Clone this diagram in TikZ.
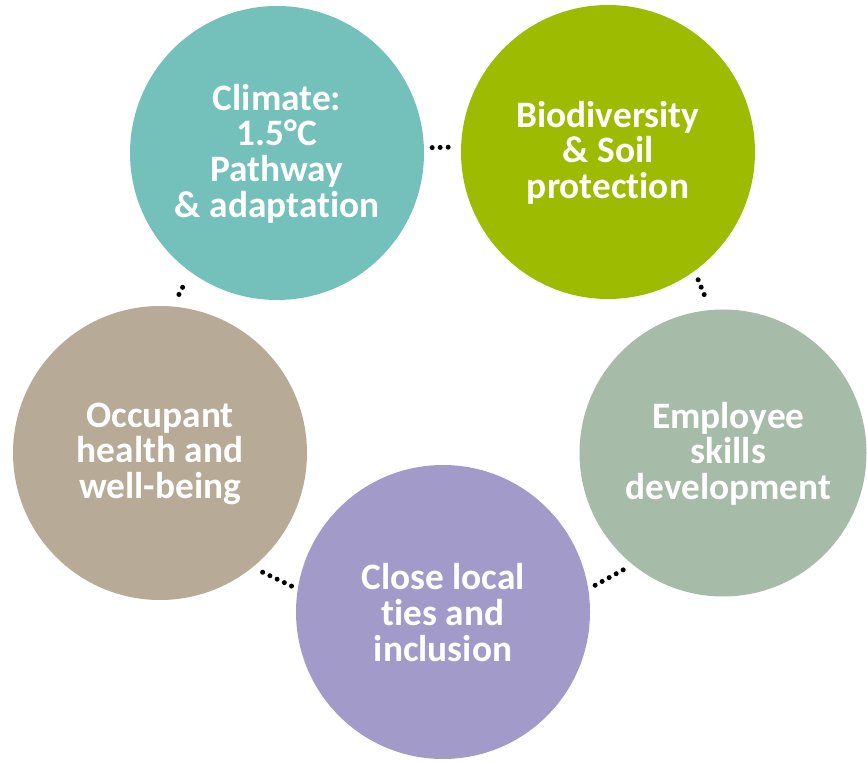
\documentclass[tikz,border=0pt]{standalone}
\usepackage{fontspec}
\setmainfont{Carlito}[RawFeature={-liga}]
\usetikzlibrary{positioning}

\definecolor{climatecol}{HTML}{74C0BA}
\definecolor{biocol}{HTML}{9DBB00}
\definecolor{skillscol}{HTML}{A6BBA8}
\definecolor{localcol}{HTML}{A29BCA}
\definecolor{healthcol}{HTML}{B7AB98}

\begin{document}
\begin{tikzpicture}[x=0.75pt, y=-0.75pt,
  goal/.style={circle, minimum size=220.5pt, inner sep=0pt},
  goaltext/.style={text=white, align=center, yshift=-0.5pt,
    font=\bfseries\fontsize{28}{26.8}\selectfont},
  link/.style={line width=3.75pt, line cap=round, dash pattern=on 0pt off 6pt}]
  \useasboundingbox (0,0) rectangle (867,762);

  % the five circles
  \node[goal, fill=climatecol] (climate) at (277,153) {};
  \node[goal, fill=biocol] (bio) at (608,152) {};
  \node[goal, fill=skillscol, minimum size=215.25pt] (skills) at (723,453) {};
  \node[goal, fill=localcol] (local) at (443,612) {};
  \node[goal, fill=healthcol] (health) at (160,453) {};

  \node[goaltext] (climatetxt) at (climate) {Climate:\\1.5°C\\Pathway\\\& adaptation};
  \node[goaltext] (biotxt) at (bio) {Biodiversity\\\& Soil\\protection};
  \node[goaltext, xshift=4pt] (skillstxt) at (skills) {Employee\\skills\\development};
  \node[goaltext] (localtxt) at (local) {Close local\\ties and\\inclusion};
  \node[goaltext] (healthtxt) at (health) {Occupant\\health and\\well-being};

  % dotted links between neighbours
  \draw[link, shorten <=6pt, shorten >=5pt] (climate.2) -- (bio.178);
  \draw[link, shorten <=7pt, shorten >=10pt] (bio.-54) -- (skills.95);
  \draw[link, shorten <=8pt, shorten >=5pt] (skills.-129) -- (local.9);
  \draw[link, shorten <=5pt, shorten >=8pt] (local.171) -- (health.-51);
  \draw[link, shorten <=10pt, shorten >=7pt] (health.85) -- (climate.-126);
\end{tikzpicture}
\end{document}
